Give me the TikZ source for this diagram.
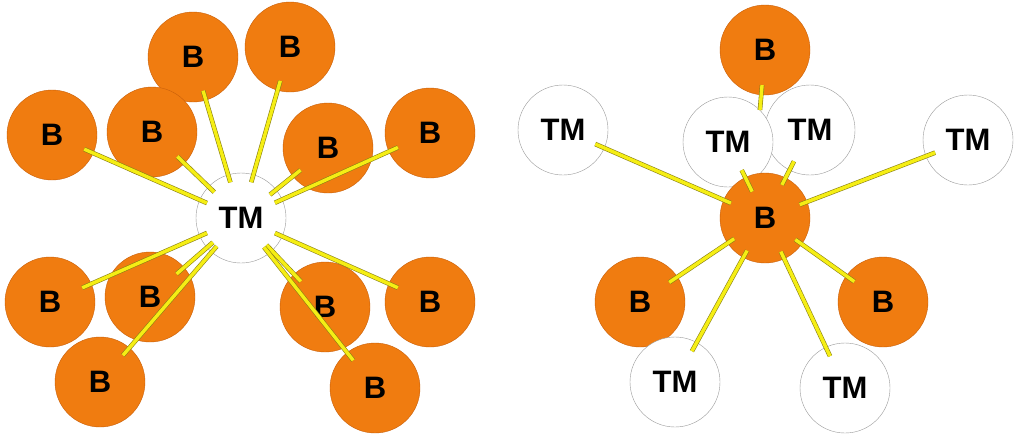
\documentclass[tikz,border=0pt]{standalone}
\usepackage{fontspec}
\setmainfont{Liberation Sans}
\begin{document}
\begin{tikzpicture}[x=1pt,y=-1pt,
  b/.style={circle,minimum size=90pt,inner sep=0pt,fill={rgb,255:red,240;green,124;blue,16},draw={rgb,255:red,200;green,95;blue,10},font=\fontsize{31}{31}\bfseries},
  tm/.style={circle,minimum size=90pt,inner sep=0pt,fill=white,draw=gray!80,font=\fontsize{31}{31}\bfseries},
  link/.style={draw={rgb,255:red,140;green,130;blue,20},line width=0.6pt,double={rgb,255:red,245;green,238;blue,20},double distance=3.4pt,shorten <=-8pt,shorten >=-10pt}]
\useasboundingbox (0,0) rectangle (1024,445);
% left cluster
\node[b] (l1) at (52,135) {B};
\node[b] (l3) at (193,57) {B};
\node[b] (l2) at (152,132) {B};
\node[b] (l4) at (290,47) {B};
\node[b] (l6) at (430,133) {B};
\node[b] (l5) at (328,148) {B};
\node[b] (l7) at (50,302) {B};
\node[b] (l9) at (100,382) {B};
\node[b] (l8) at (150,297) {B};
\node[b] (l11) at (430,302) {B};
\node[b] (l12) at (375,388) {B};
\node[b] (l10) at (325,307) {B};
\node[tm] (ltm) at (241,218) {TM};
\foreach \n in {l1,l2,l3,l4,l5,l6,l7,l8,l9,l10,l11,l12}
  \draw[link] (ltm) -- (\n);
% right cluster
\node[b] (rb0) at (765,50) {B};
\node[tm] (r2) at (810,130) {TM};
\node[tm] (r1) at (728,142) {TM};
\node[tm] (r0) at (563,130) {TM};
\node[tm] (r3) at (968,140) {TM};
\node[b] (rb1) at (640,302) {B};
\node[b] (rb2) at (883,302) {B};
\node[tm] (r4) at (675,382) {TM};
\node[tm] (r5) at (845,388) {TM};
\node[b] (rc) at (765,218) {B};
\foreach \n in {r0,r1,r2,r3,rb1,rb2,r4,r5}
  \draw[link] (rc) -- (\n);
\draw[link,shorten <=0pt] (r1.north east) -- (rb0);
\end{tikzpicture}
\end{document}
